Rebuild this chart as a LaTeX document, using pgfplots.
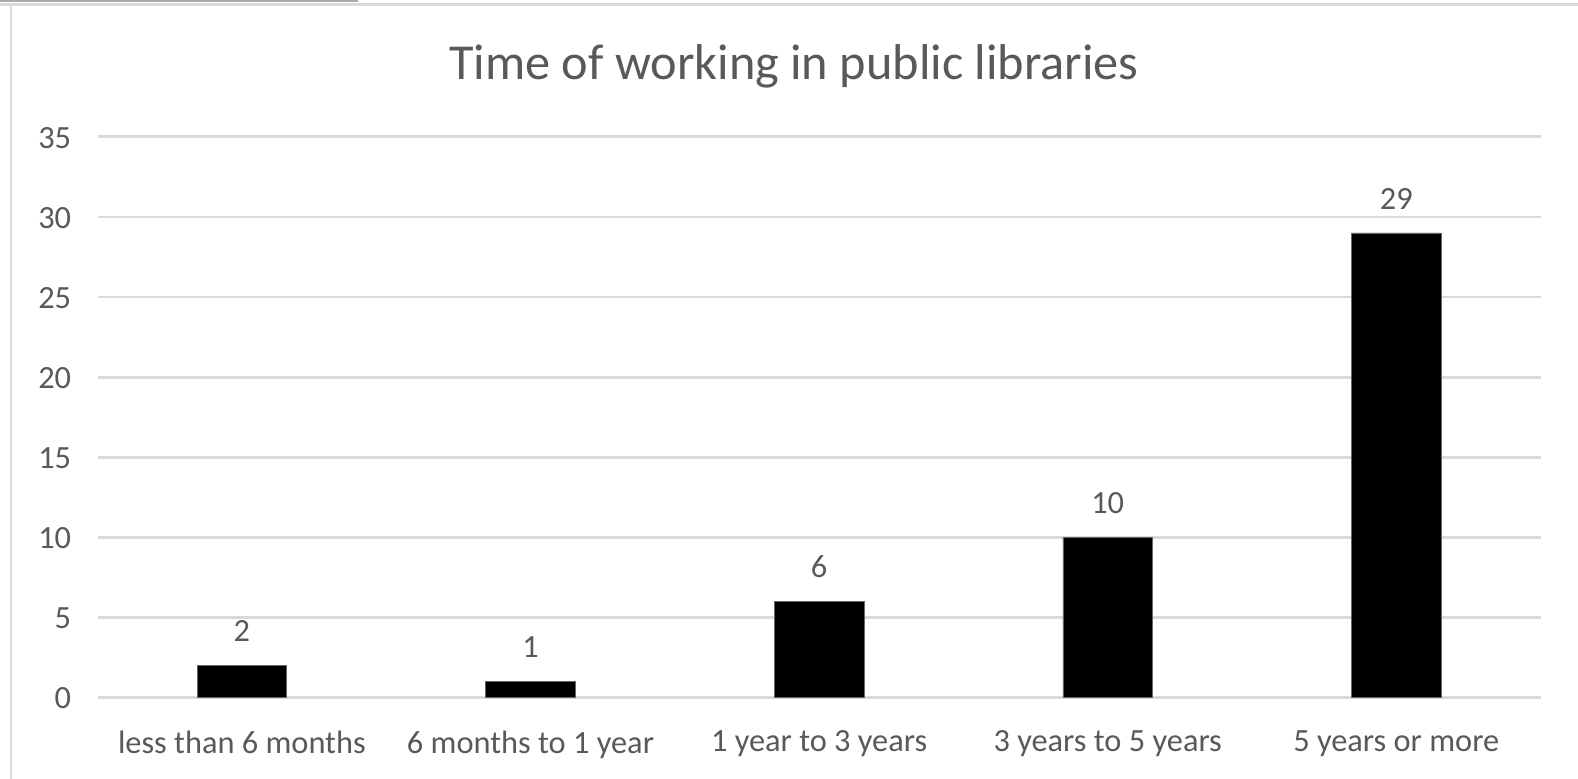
\documentclass[border=0pt]{standalone}
\usepackage{fontspec}
\setmainfont{Carlito}
\usepackage{pgfplots}
\pgfplotsset{compat=1.18}
\definecolor{txt}{RGB}{89,89,89}
\definecolor{gridgray}{RGB}{217,217,217}
\definecolor{framegray}{RGB}{217,217,217}
\definecolor{darkbar}{RGB}{170,170,170}
\begin{document}
\begin{tikzpicture}[x=1bp,y=1bp]
\path[use as bounding box] (0,0) rectangle (1578,779);
\fill[darkbar] (0,776.5) rectangle (358,779);
\fill[framegray] (0,773) rectangle (1578,776);
\fill[framegray] (10,0) rectangle (12,775);
\node[text=txt, font=\fontsize{50.5}{56}\selectfont] at (794,713) {Time of working in public libraries};
\begin{axis}[
  at={(97.6bp,81.6bp)}, anchor=south west,
  scale only axis, width=1443bp, height=560.5bp,
  xmin=-0.5, xmax=4.5, ymin=0, ymax=35,
  ytick={0,5,...,35},
  xtick=data,
  xticklabels={less than 6 months,6 months to 1 year,1 year to 3 years,3 years to 5 years,5 years or more},
  axis line style={draw=none},
  major tick length=0pt,
  xmajorgrids=false,
  ymajorgrids, grid style={draw=gridgray, line width=2.8bp},
  tick label style={text=txt, font=\fontsize{32.5}{38}\selectfont},
  /pgf/number format/assume math mode=true,
  yticklabel style={xshift=-23bp, yshift=-1bp},
  xticklabel style={yshift=-30bp},
  ybar, bar width=89.5bp,
  nodes near coords,
  nodes near coords style={text=txt, font=\fontsize{32.5}{38}\selectfont, yshift=20bp},
  clip=false,
]
\addplot[fill=black, draw=black!60, line width=0.6bp] coordinates {(0,2) (1,1) (2,6) (3,10) (4,29)};
\end{axis}
\end{tikzpicture}
\end{document}
